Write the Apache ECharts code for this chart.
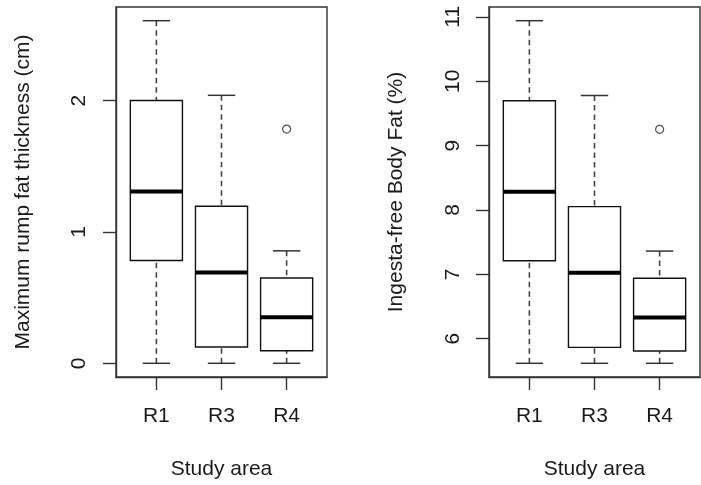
<!DOCTYPE html>
<html>
<head>
<meta charset="utf-8">
<script src="https://cdn.jsdelivr.net/npm/echarts@6/dist/echarts.min.js"></script>
<style>
html,body{margin:0;padding:0;background:#fff;}
#main{width:701px;height:485px;}
</style>
</head>
<body>
<div id="main"></div>
<script>
// ---- data ----
const categories = ['R1', 'R3', 'R4'];
// [lower whisker, Q1, median, Q3, upper whisker]
const rumpStats = [
  [0, 0.783, 1.308, 2.0, 2.608],
  [0, 0.124, 0.692, 1.195, 2.04],
  [0, 0.096, 0.351, 0.649, 0.856]
];
const rumpOutliers = [[3, 1.783]];
const fatStats = [
  [5.618, 7.211, 8.284, 9.696, 10.94],
  [5.618, 5.866, 7.025, 8.052, 9.778],
  [5.618, 5.81, 6.33, 6.938, 7.361]
];
const fatOutliers = [[3, 9.252]];
const rumpTicks = [0, 1, 2];
const fatTicks = [6, 7, 8, 9, 10, 11];
const xTitle = 'Study area';
const rumpTitle = 'Maximum rump fat thickness (cm)';
const fatTitle = 'Ingesta-free Body Fat (%)';

// ---- helpers ----
function rangeOf(stats, outliers) {
  let lo = Infinity, hi = -Infinity;
  stats.forEach(s => { lo = Math.min(lo, s[0]); hi = Math.max(hi, s[4]); });
  outliers.forEach(o => { lo = Math.min(lo, o[1]); hi = Math.max(hi, o[1]); });
  const pad = (hi - lo) * 0.04;
  return [lo - pad, hi + pad];
}
const xr = [0.5 - 3 * 0.04, 3.5 + 3 * 0.04];
const FONT = 'Liberation Sans, Arial, sans-serif';
const FS = 21;
const TXT = '#1a1a1a';
const AX = '#333';

function boxData(stats) {
  return stats.map((s, i) => [i + 1].concat(s));
}

function renderBox(params, api) {
  const x = api.value(0);
  const vmin = api.value(1), q1 = api.value(2), med = api.value(3), q3 = api.value(4), vmax = api.value(5);
  const half = 0.4, capHalf = 0.21;
  const pL = api.coord([x - half, q1]);
  const pR = api.coord([x + half, q3]);
  const pc = api.coord([x, med]);
  const cL = api.coord([x - capHalf, vmin])[0];
  const cR = api.coord([x + capHalf, vmin])[0];
  const yMin = api.coord([x, vmin])[1];
  const yMax = api.coord([x, vmax])[1];
  const yQ1 = pL[1], yQ3 = pR[1];
  const dash = { stroke: '#444', lineWidth: 1.6, lineDash: [5.5, 4] };
  const solid = { stroke: '#333', lineWidth: 1.5 };
  return {
    type: 'group',
    children: [
      { type: 'line', shape: { x1: pc[0], y1: yMax, x2: pc[0], y2: yQ3 }, style: dash },
      { type: 'line', shape: { x1: pc[0], y1: yMin, x2: pc[0], y2: yQ1 }, style: dash },
      { type: 'line', shape: { x1: cL, y1: yMax, x2: cR, y2: yMax }, style: solid },
      { type: 'line', shape: { x1: cL, y1: yMin, x2: cR, y2: yMin }, style: solid },
      { type: 'rect', shape: { x: pL[0], y: yQ3, width: pR[0] - pL[0], height: yQ1 - yQ3 },
        style: { fill: '#fff', stroke: '#111', lineWidth: 1.4 } },
      { type: 'line', shape: { x1: pL[0], y1: pc[1], x2: pR[0], y2: pc[1] },
        style: { stroke: '#000', lineWidth: 4 } }
    ]
  };
}

function makeX(gridIndex) {
  return {
    type: 'value', gridIndex: gridIndex, min: xr[0], max: xr[1],
    splitLine: { show: false },
    axisLine: { show: true, onZero: false, lineStyle: { color: AX, width: 1.4 } },
    axisTick: { show: true, length: 13, customValues: [1, 2, 3], lineStyle: { color: AX, width: 1.4 } },
    axisLabel: { show: true, customValues: [1, 2, 3], margin: 29,
      formatter: v => categories[Math.round(v) - 1] || '',
      color: TXT, fontFamily: FONT, fontSize: FS },
    name: xTitle, nameLocation: 'middle', nameGap: 82,
    nameTextStyle: { color: TXT, fontFamily: FONT, fontSize: FS }
  };
}
function makeY(gridIndex, range, ticks, title, margin) {
  return {
    type: 'value', gridIndex: gridIndex, min: range[0], max: range[1],
    splitLine: { show: false },
    axisLine: { show: true, onZero: false, lineStyle: { color: AX, width: 1.4 } },
    axisTick: { show: true, length: 13, customValues: ticks, lineStyle: { color: AX, width: 1.4 } },
    axisLabel: { show: true, customValues: ticks, rotate: 90, margin: margin,
      formatter: v => String(Math.round(v)),
      color: TXT, fontFamily: FONT, fontSize: FS },
    name: title, nameLocation: 'middle', nameGap: 82,
    nameTextStyle: { color: TXT, fontFamily: FONT, fontSize: FS }
  };
}

const chart = echarts.init(document.getElementById('main'), null, { renderer: 'canvas' });
chart.setOption({
  backgroundColor: '#fff',
  animation: false,
  grid: [
    { left: 116, top: 7, width: 211, height: 372, show: true, borderColor: AX, borderWidth: 1.4, backgroundColor: 'transparent' },
    { left: 489, top: 7, width: 211, height: 372, show: true, borderColor: AX, borderWidth: 1.4, backgroundColor: 'transparent' }
  ],
  xAxis: [makeX(0), makeX(1)],
  yAxis: [
    makeY(0, rangeOf(rumpStats, rumpOutliers), rumpTicks, rumpTitle, 26),
    makeY(1, rangeOf(fatStats, fatOutliers), fatTicks, fatTitle, 25)
  ],
  series: [
    { type: 'custom', xAxisIndex: 0, yAxisIndex: 0, renderItem: renderBox, data: boxData(rumpStats),
      encode: { x: 0, y: [1, 2, 3, 4, 5] }, clip: false },
    { type: 'scatter', xAxisIndex: 0, yAxisIndex: 0, data: rumpOutliers, symbol: 'circle', symbolSize: 8,
      itemStyle: { color: 'rgba(0,0,0,0)', borderColor: '#222', borderWidth: 1.2 } },
    { type: 'custom', xAxisIndex: 1, yAxisIndex: 1, renderItem: renderBox, data: boxData(fatStats),
      encode: { x: 0, y: [1, 2, 3, 4, 5] }, clip: false },
    { type: 'scatter', xAxisIndex: 1, yAxisIndex: 1, data: fatOutliers, symbol: 'circle', symbolSize: 8,
      itemStyle: { color: 'rgba(0,0,0,0)', borderColor: '#222', borderWidth: 1.2 } }
  ]
});
</script>
</body>
</html>
